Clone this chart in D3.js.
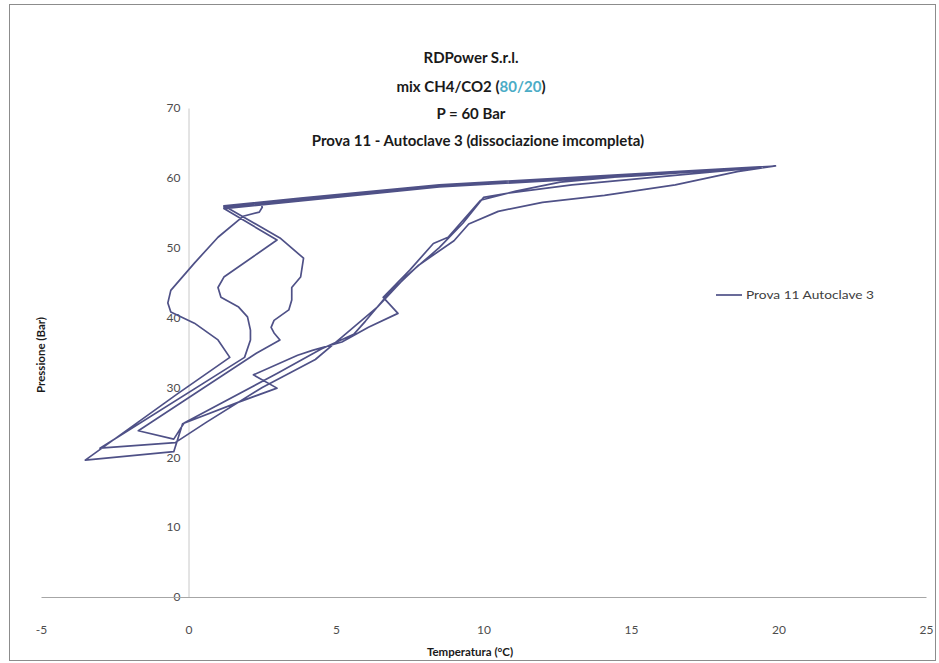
<!DOCTYPE html>
<html>
<head>
<meta charset="utf-8">
<script src="https://cdn.jsdelivr.net/npm/d3@7"></script>
<style>
  html, body { margin: 0; padding: 0; background: #fff; }
  svg { display: block; font-family: Lato, "Open Sans", sans-serif; }
</style>
</head>
<body>
<div id="chart"></div>
<script>
// Prova 11 - Autoclave 3 : temperature (°C) and pressure (bar), in recorded order
const temperatura = [
  19.9, 15.3, 8.5, 3.8, 1.2,
  2.45, 2.5, 2.4, 1.85,
  1.0, 0.2, -0.6, -0.7, -0.6, 0.2, 1.0, 1.4,
  -0.4, -3.5,
  -0.5, -0.2,
  1.7, 3.0, 2.2, 3.7, 4.2, 5.2, 6.1, 7.1, 6.6, 7.5, 8.3, 8.8, 9.9, 11.1, 12.6, 16.0, 19.9,
  15.3, 8.5, 3.8, 1.2,
  3.0, 1.2, 1.0, 1.1, 1.7, 2.0, 2.1, 2.1, 1.9,
  -3.0,
  -0.45, 0.6, 2.5, 4.3, 5.2, 6.4, 7.4, 8.5, 9.3, 10.0, 10.8, 13.0, 19.9,
  15.3, 8.5, 3.8, 1.2,
  3.1, 3.9, 3.8, 3.5, 3.5, 3.4, 2.9, 2.8, 2.9, 3.1, 2.3,
  -1.7,
  -0.5, -0.15, 3.0, 4.5, 5.6, 6.0, 6.8, 7.8, 9.0, 9.5, 10.5, 12.0, 14.1, 16.5, 18.6, 19.9
];
const pressione = [
  61.7, 60.5, 58.9, 56.9, 55.8,
  56.5, 55.8, 55.1, 54.5,
  51.5, 47.8, 43.9, 42.1, 40.8, 39.2, 36.8, 34.3,
  29.0, 19.6,
  20.8, 24.8,
  27.9, 29.9, 31.8, 34.6, 35.3, 36.5, 38.6, 40.6, 42.9, 46.8, 50.6, 51.5, 56.8, 58.1, 59.4, 60.7, 61.7,
  60.3, 58.7, 56.7, 55.6,
  51.1, 45.8, 44.3, 42.9, 41.5, 40.1, 38.2, 36.8, 34.3,
  21.3,
  22.1, 25.0, 30.0, 34.0, 37.2, 41.5, 46.0, 50.0, 53.5, 57.2, 57.8, 59.0, 61.7,
  60.6, 59.0, 57.1, 56.0,
  51.4, 48.5, 45.8, 44.3, 42.5, 41.1, 39.6, 38.6, 37.8, 36.8, 34.9,
  23.8,
  22.6, 24.9, 32.0, 35.5, 37.6, 39.5, 43.5, 47.5, 51.0, 53.4, 55.2, 56.5, 57.5, 59.0, 60.9, 61.7
];

const xTicks = [-5, 0, 5, 10, 15, 20, 25];
const yTicks = [0, 10, 20, 30, 40, 50, 60, 70];
const titleLines = ['RDPower S.r.l.', 'mix CH4/CO2 (', 'P = 60 Bar', 'Prova 11 - Autoclave 3 (dissociazione imcompleta)'];
const seriesName = 'Prova 11 Autoclave 3';

const width = 939, height = 663;
const lineColor = '#4f5187';

const svg = d3.select('#chart').append('svg')
  .attr('width', width)
  .attr('height', height);

// chart frame
svg.append('rect')
  .attr('x', 9.5).attr('y', 4.5)
  .attr('width', 926).attr('height', 656)
  .attr('fill', '#fff')
  .attr('stroke', '#8c8c8c');

const x = d3.scaleLinear().domain([-5, 25]).range([41, 926]);
const y = d3.scaleLinear().domain([0, 70]).range([597, 108]);

// axes: y axis crosses at T = 0, x axis at P = 0 (labels kept low, Excel style)
const yAxis = svg.append('g')
  .attr('transform', `translate(${x(0)},0)`)
  .call(d3.axisLeft(y).tickValues(yTicks).tickFormat(d => String(d))
    .tickSize(0).tickPadding(8).tickSizeOuter(0));
yAxis.select('.domain').attr('stroke', '#c8c8c8');
yAxis.selectAll('text')
  .attr('fill', '#4d4d4d')
  .style('font-size', '12px')
  .style('font-family', 'Lato, sans-serif');

const xAxis = svg.append('g')
  .attr('transform', `translate(0,${y(0)})`)
  .call(d3.axisBottom(x).tickValues(xTicks).tickFormat(d => String(d))
    .tickSize(0).tickPadding(28).tickSizeOuter(0));
xAxis.select('.domain').attr('stroke', '#a6a6a6');
xAxis.selectAll('text')
  .attr('fill', '#4d4d4d')
  .style('font-size', '12px')
  .style('font-family', 'Lato, sans-serif');

// series
const points = temperatura.map((t, i) => [t, pressione[i]]);
const line = d3.line()
  .x(d => x(d[0]))
  .y(d => y(d[1]));

svg.append('path')
  .datum(points)
  .attr('d', line)
  .attr('fill', 'none')
  .attr('stroke', lineColor)
  .attr('stroke-width', 1.7)
  .attr('stroke-linejoin', 'round');

// title
const title = svg.append('g')
  .attr('text-anchor', 'middle')
  .style('font-size', '15px')
  .style('font-weight', 'bold')
  .attr('fill', '#1a1a1a');

title.append('text').attr('x', 471).attr('y', 63).text(titleLines[0]);
const mix = title.append('text').attr('x', 471).attr('y', 92);
mix.append('tspan').text(titleLines[1]);
mix.append('tspan').attr('fill', '#4bacc6').text('80/20');
mix.append('tspan').text(')');
title.append('text').attr('x', 471).attr('y', 119).text(titleLines[2]);
title.append('text').attr('x', 478).attr('y', 146).text(titleLines[3]);

// axis titles
svg.append('text')
  .attr('x', 470).attr('y', 656)
  .attr('text-anchor', 'middle')
  .style('font-size', '11.5px')
  .style('font-weight', 'bold')
  .attr('fill', '#1a1a1a')
  .text('Temperatura (°C)');

svg.append('text')
  .attr('transform', 'translate(45,355) rotate(-90)')
  .attr('text-anchor', 'middle')
  .style('font-size', '11.5px')
  .style('font-weight', 'bold')
  .attr('fill', '#1a1a1a')
  .text('Pressione (Bar)');

// legend
const legend = svg.append('g').attr('transform', 'translate(716,295)');
legend.append('line')
  .attr('x1', 0).attr('x2', 26)
  .attr('stroke', lineColor)
  .attr('stroke-width', 1.7);
legend.append('text')
  .attr('x', 30).attr('y', 3.5)
  .attr('textLength', 128)
  .attr('lengthAdjust', 'spacingAndGlyphs')
  .style('font-size', '10.5px')
  .attr('fill', '#404040')
  .text(seriesName);
</script>
</body>
</html>
